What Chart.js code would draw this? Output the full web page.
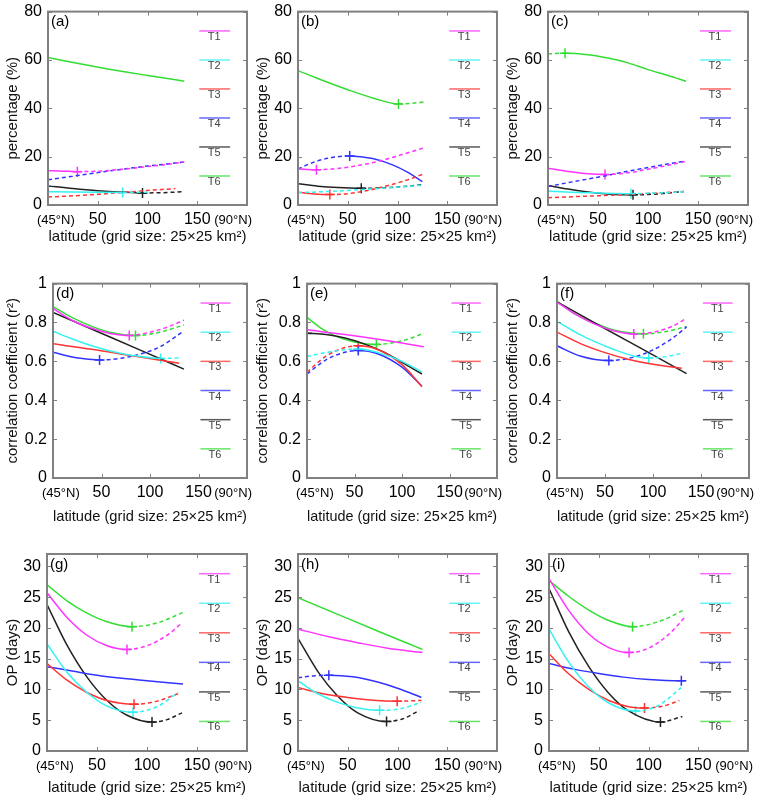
<!DOCTYPE html>
<html>
<head>
<meta charset="utf-8">
<script src="https://cdn.jsdelivr.net/npm/chart.js@4.4.1/dist/chart.umd.min.js"></script>
<style>
  body { margin: 0; background: #fff; }
  #fig { position: relative; width: 760px; height: 802px; overflow: hidden; background: #fff; }
  #fig canvas { position: absolute; }
</style>
</head>
<body>
<div id="fig"></div>
<script>
// series names / colours (same for all nine panels)
const seriesNames = ['T1', 'T2', 'T3', 'T4', 'T5', 'T6'];
const seriesColors = ['#ff33ff', '#33f2f2', '#ff3333', '#3333ff', '#222222', '#33dd33'];

// x axis: grid cells north of 45N
const xMax = 200;
const xTicks = [50, 100, 150];
const xEndLabels = ['(45°N)', '(90°N)'];
const xTitle = 'latitude (grid size: 25×25 km²)';

// y axes
const yTicksPct = [0, 20, 40, 60, 80];
const yTicksCorr = [0, 0.2, 0.4, 0.6, 0.8, 1];
const yTicksOP = [0, 5, 10, 15, 20, 25, 30];
const yTitles = ['percentage (%)', 'correlation coefficient (r²)', 'OP (days)'];
const yMaxes = [80, 1, 32];

// (a) percentage, [x, value]
const aT1 = [[0, 14.2], [15, 14.0], [29.5, 13.8], [50, 14.0], [75, 14.8], [100, 15.9], [120, 16.8], [137, 17.8]];
const aT2 = [[0, 5.5], [25, 5.35], [50, 5.25], [75, 5.2], [100, 5.3]];
const aT3 = [[0, 3.3], [25, 3.8], [50, 4.4], [75, 5.2], [100, 6.0], [128, 6.8]];
const aT4 = [[0, 10.4], [25, 11.9], [50, 13.4], [75, 14.8], [100, 16.1], [120, 17.0], [137, 17.8]];
const aT5 = [[0, 7.9], [25, 6.8], [50, 5.9], [75, 5.3], [95, 5.0], [115, 5.1], [137, 5.5]];
const aT6 = [[0, 61], [20, 59.4], [40, 57.8], [60, 56.3], [80, 54.9], [100, 53.6], [120, 52.3], [137, 51.2]];
const aVertex = [[0, 29.5, 13.8], [1, 75, 5.2], [4, 95, 5.0]];

// (b)
const bT1 = [[0, 15.0], [18.5, 14.6], [40, 15.1], [60, 16.3], [80, 18.0], [100, 20.3], [127, 23.7]];
const bT2 = [[0, 5.1], [25, 5.5], [50, 6.0], [75, 6.7], [100, 7.4], [125, 8.2]];
const bT3 = [[0, 5.3], [16, 4.6], [32, 4.3], [50, 4.7], [70, 6.0], [90, 8.0], [110, 10.4], [126, 12.8]];
const bT4 = [[0, 14.9], [15, 17.6], [30, 19.3], [52, 20.3], [75, 19.2], [95, 16.6], [110, 13.6], [125, 9.7]];
const bT5 = [[0, 8.8], [20, 7.8], [40, 7.2], [63.6, 6.9], [85, 7.1], [105, 7.6], [125, 8.4]];
const bT6 = [[0, 55.6], [25, 51.5], [50, 47.7], [75, 44.3], [101, 41.8], [115, 42.1], [127, 42.6]];
const bVertex = [[0, 18.5, 14.6], [2, 32, 4.3], [3, 52, 20.3], [4, 63.6, 6.9], [5, 101, 41.8]];

// (c)
const cT1 = [[0, 15.2], [20, 13.9], [40, 12.9], [57, 12.6], [80, 13.3], [100, 14.8], [120, 16.4], [137, 18.0]];
const cT2 = [[0, 5.8], [25, 5.3], [50, 5.0], [83, 4.7], [110, 5.0], [137, 5.5]];
const cT3 = [[0, 3.0], [30, 3.5], [60, 4.0], [90, 4.6], [115, 5.1], [136, 5.6]];
const cT4 = [[0, 7.7], [25, 9.6], [50, 11.5], [75, 13.6], [100, 15.5], [120, 17.0], [137, 18.1]];
const cT5 = [[0, 8.1], [20, 6.6], [40, 5.4], [60, 4.6], [85, 4.2], [110, 4.6], [136, 5.6]];
const cT6 = [[0, 62.5], [17, 62.8], [40, 62.2], [60, 60.8], [80, 58.8], [100, 56.0], [120, 53.6], [138, 51.2]];
const cVertex = [[0, 57, 12.6], [1, 83, 4.7], [4, 85, 4.2], [5, 17, 62.8]];

// (d) correlation coefficient
const dT1 = [[0, 0.872], [20, 0.81], [40, 0.77], [60, 0.742], [78.6, 0.733], [100, 0.75], [120, 0.78], [135, 0.812]];
const dT2 = [[0, 0.755], [20, 0.715], [40, 0.68], [60, 0.652], [80, 0.632], [111, 0.615], [130, 0.618]];
const dT3 = [[0, 0.69], [40, 0.662], [80, 0.63], [130, 0.59]];
const dT4 = [[0, 0.647], [24, 0.618], [48, 0.607], [70, 0.616], [90, 0.638], [110, 0.674], [135, 0.757]];
const dT5 = [[0, 0.852], [45, 0.755], [90, 0.658], [135, 0.56]];
const dT6 = [[0, 0.882], [20, 0.825], [40, 0.78], [60, 0.748], [85, 0.733], [110, 0.75], [135, 0.787]];
const dVertex = [[0, 78.6, 0.733], [1, 111, 0.615], [3, 48, 0.607], [5, 85, 0.733]];

// (e)
const eT1 = [[0, 0.762], [40, 0.738], [80, 0.71], [123, 0.675]];
const eT2 = [[0, 0.625], [25, 0.65], [54, 0.664], [75, 0.645], [100, 0.6], [121, 0.545]];
const eT3 = [[0, 0.545], [20, 0.627], [40, 0.671], [54, 0.68], [75, 0.66], [100, 0.583], [121, 0.47]];
const eT4 = [[0, 0.535], [20, 0.608], [40, 0.647], [54, 0.656], [75, 0.638], [100, 0.57], [121, 0.472]];
const eT5 = [[0, 0.745], [20, 0.738], [40, 0.72], [60, 0.69], [80, 0.65], [100, 0.595], [121, 0.535]];
const eT6 = [[0, 0.826], [15, 0.77], [30, 0.73], [50, 0.70], [73, 0.687], [95, 0.70], [110, 0.72], [123, 0.746]];
const eVertex = [[1, 54, 0.664], [2, 54, 0.68], [3, 54, 0.656], [4, 0, 0.745], [5, 73, 0.687]];

// (f)
const fT1 = [[0, 0.905], [20, 0.84], [40, 0.79], [60, 0.756], [80, 0.741], [100, 0.75], [120, 0.78], [135, 0.822]];
const fT2 = [[0, 0.806], [20, 0.748], [40, 0.70], [60, 0.66], [80, 0.628], [95.5, 0.617], [115, 0.625], [132, 0.644]];
const fT3 = [[0, 0.75], [25, 0.69], [50, 0.645], [75, 0.61], [100, 0.585], [130, 0.565]];
const fT4 = [[0, 0.68], [25, 0.626], [54, 0.604], [80, 0.622], [100, 0.659], [120, 0.718], [135, 0.777]];
const fT5 = [[0, 0.906], [45, 0.782], [90, 0.66], [135, 0.537]];
const fT6 = [[0, 0.91], [20, 0.84], [40, 0.795], [60, 0.76], [90, 0.742], [115, 0.755], [135, 0.78]];
const fVertex = [[0, 80, 0.741], [1, 95.5, 0.617], [3, 54, 0.604], [5, 90, 0.742]];

// (g) OP in days
const gT1 = [[0, 25.7], [20, 21.7], [40, 18.8], [60, 17.1], [80, 16.5], [100, 17.1], [120, 18.8], [135, 20.8]];
const gT2 = [[0, 17.4], [20, 12.8], [40, 9.5], [60, 7.3], [86, 6.3], [110, 7.2], [131, 9.5]];
const gT3 = [[0, 14.2], [20, 11.5], [40, 9.5], [60, 8.2], [87, 7.6], [110, 8.1], [131, 9.3]];
const gT4 = [[0, 13.7], [25, 13.0], [50, 12.3], [75, 11.8], [100, 11.4], [136, 10.9]];
const gT5 = [[0, 23.8], [20, 17.2], [40, 12.0], [60, 8.2], [80, 5.8], [105, 4.7], [120, 5.1], [135, 6.2]];
const gT6 = [[0, 27.0], [20, 24.4], [40, 22.4], [60, 21.0], [85, 20.2], [110, 20.8], [136, 22.5]];
const gVertex = [[0, 80, 16.5], [1, 86, 6.3], [2, 87, 7.6], [4, 105, 4.7], [5, 85, 20.2]];

// (h)
const hT1 = [[0, 19.8], [30, 18.6], [60, 17.6], [90, 16.7], [125, 16.0]];
const hT2 = [[0, 11.4], [20, 9.3], [40, 7.9], [60, 7.0], [82, 6.6], [104, 6.9], [124, 7.9]];
const hT3 = [[0, 10.3], [25, 9.3], [50, 8.7], [75, 8.25], [99.7, 8.1], [124, 8.2]];
const hT4 = [[0, 11.9], [15, 12.2], [31, 12.3], [55, 12.05], [80, 11.2], [100, 10.2], [124, 8.7]];
const hT5 = [[0, 18.3], [20, 12.9], [40, 8.9], [60, 6.2], [89, 4.8], [105, 5.2], [122, 6.6]];
const hT6 = [[0, 24.9], [40, 22.2], [80, 19.5], [125, 16.5]];
const hVertex = [[1, 82, 6.6], [2, 99.7, 8.1], [3, 31, 12.3], [4, 89, 4.8]];

// (i)
const iT1 = [[0, 28.0], [20, 22.8], [40, 19.0], [60, 16.8], [80.5, 16.0], [100, 16.7], [120, 18.9], [137, 21.8]];
const iT2 = [[0, 19.8], [20, 14.4], [40, 10.4], [60, 7.8], [87, 6.5], [110, 7.4], [133, 10.3]];
const iT3 = [[0, 15.8], [20, 12.5], [40, 10.0], [60, 8.2], [80, 7.2], [96, 7.0], [115, 7.3], [131, 8.2]];
const iT4 = [[0, 14.2], [25, 13.3], [50, 12.6], [75, 12.0], [100, 11.6], [133, 11.4], [137, 11.42]];
const iT5 = [[0, 26.4], [20, 19.3], [40, 13.7], [60, 9.4], [80, 6.5], [112, 4.7], [134, 5.6]];
const iT6 = [[0, 27.7], [20, 25.1], [40, 22.9], [60, 21.2], [84, 20.2], [110, 21.0], [137, 23.0]];
const iVertex = [[0, 80.5, 16.0], [1, 87, 6.5], [2, 96, 7.0], [3, 133, 11.4], [4, 112, 4.7], [5, 84, 20.2]];

// layout: plot boxes [x1, y1, x2, y2] in page pixels
const colStarts = [0, 250, 500];
const rowTops = [-4, 268, 538];
const xAxisHeights = [45, 52, 50];
const panelBoxes = [
  [48, 8, 247, 205], [298, 8, 497, 205], [548, 8, 748, 205],
  [53, 283, 247, 478], [307, 283, 497, 478], [557, 283, 749, 478],
  [47, 554, 247, 751], [298, 554, 497, 751], [549, 554, 748, 751]
];

const panels = [
  { letter: '(a)', series: [aT1, aT2, aT3, aT4, aT5, aT6], vertex: aVertex },
  { letter: '(b)', series: [bT1, bT2, bT3, bT4, bT5, bT6], vertex: bVertex },
  { letter: '(c)', series: [cT1, cT2, cT3, cT4, cT5, cT6], vertex: cVertex },
  { letter: '(d)', series: [dT1, dT2, dT3, dT4, dT5, dT6], vertex: dVertex },
  { letter: '(e)', series: [eT1, eT2, eT3, eT4, eT5, eT6], vertex: eVertex },
  { letter: '(f)', series: [fT1, fT2, fT3, fT4, fT5, fT6], vertex: fVertex },
  { letter: '(g)', series: [gT1, gT2, gT3, gT4, gT5, gT6], vertex: gVertex },
  { letter: '(h)', series: [hT1, hT2, hT3, hT4, hT5, hT6], vertex: hVertex },
  { letter: '(i)', series: [iT1, iT2, iT3, iT4, iT5, iT6], vertex: iVertex }
];
const yTickSets = [yTicksPct, yTicksCorr, yTicksOP];

const FONT = "'Liberation Sans', Arial, Helvetica, sans-serif";
Chart.defaults.font.family = FONT;

// frame, inner ticks, x tick labels, panel letter and the legend inside the box
const framePlugin = {
  id: 'frame',
  afterDraw(chart, args, opts) {
    const ctx = chart.ctx;
    const a = chart.chartArea;
    const xs = chart.scales.x, ys = chart.scales.y;
    ctx.save();

    // legend (drawn inside the plot, right side)
    const w = a.right - a.left;
    seriesNames.forEach((name, i) => {
      const frac = 0.9 - 0.15 * i;
      const y = ys.getPixelForValue(ys.min + frac * (ys.max - ys.min));
      ctx.strokeStyle = seriesColors[i];
      ctx.globalAlpha = 0.75;
      ctx.lineWidth = 1.5;
      ctx.beginPath();
      ctx.moveTo(a.left + 0.76 * w, y);
      ctx.lineTo(a.left + 0.915 * w, y);
      ctx.stroke();
      ctx.globalAlpha = 1;
      ctx.fillStyle = '#444';
      ctx.font = '11px ' + FONT;
      ctx.textAlign = 'center';
      ctx.textBaseline = 'middle';
      ctx.fillText(name, a.left + 0.835 * w, y + 6);
    });

    // box
    ctx.strokeStyle = '#808080';
    ctx.lineWidth = 2;
    ctx.strokeRect(a.left, a.top, a.right - a.left, a.bottom - a.top);

    // inner tick marks
    ctx.lineWidth = 1;
    ctx.beginPath();
    xTicks.forEach(v => {
      const px = Math.round(xs.getPixelForValue(v)) + 0.5;
      ctx.moveTo(px, a.bottom); ctx.lineTo(px, a.bottom - 4);
      ctx.moveTo(px, a.top); ctx.lineTo(px, a.top + 4);
    });
    ys.ticks.forEach(t => {
      const py = Math.round(ys.getPixelForValue(t.value)) + 0.5;
      ctx.moveTo(a.left, py); ctx.lineTo(a.left + 4, py);
      ctx.moveTo(a.right, py); ctx.lineTo(a.right - 4, py);
    });
    ctx.stroke();

    // x tick labels
    ctx.fillStyle = '#000';
    ctx.textBaseline = 'middle';
    ctx.font = '16px ' + FONT;
    ctx.textAlign = 'center';
    xTicks.forEach(v => ctx.fillText(String(v), xs.getPixelForValue(v), a.bottom + 15));
    ctx.font = '13px ' + FONT;
    ctx.textAlign = 'left';
    ctx.fillText(xEndLabels[0], xs.getPixelForValue(0) - 11, a.bottom + 15);
    ctx.textAlign = 'right';
    ctx.fillText(xEndLabels[1], xs.getPixelForValue(xMax) + 5, a.bottom + 15);

    // panel letter
    ctx.font = '15px ' + FONT;
    ctx.textAlign = 'left';
    ctx.textBaseline = 'top';
    ctx.fillText(opts.letter, a.left + 3, a.top + 3);
    ctx.restore();
  }
};

const fig = document.getElementById('fig');

panels.forEach((p, k) => {
  const row = Math.floor(k / 3), col = k % 3;
  const box = panelBoxes[k];
  const left = colStarts[col], top = rowTops[row];
  const w = box[2] - left + 10;
  const h = box[3] - top + xAxisHeights[row];

  const canvas = document.createElement('canvas');
  canvas.width = w;
  canvas.height = h;
  canvas.style.left = left + 'px';
  canvas.style.top = top + 'px';
  canvas.style.width = w + 'px';
  canvas.style.height = h + 'px';
  fig.appendChild(canvas);

  const datasets = p.series.map((pts, i) => ({
    label: seriesNames[i],
    data: pts.map(q => ({ x: q[0], y: q[1] })),
    borderColor: seriesColors[i],
    borderWidth: 1.5,
    pointRadius: 0,
    fill: false,
    cubicInterpolationMode: 'monotone',
    // rising part of a fitted curve is dashed, falling part solid
    segment: {
      borderDash: c => (c.p1.parsed.y > c.p0.parsed.y ? [4, 3] : undefined)
    }
  }));

  // turning points marked with a +
  datasets.push({
    label: 'vertex',
    data: p.vertex.map(v => ({ x: v[1], y: v[2] })),
    showLine: false,
    pointStyle: 'cross',
    pointRadius: 5,
    pointBorderWidth: 1.5,
    pointBorderColor: p.vertex.map(v => seriesColors[v[0]]),
    borderColor: p.vertex.map(v => seriesColors[v[0]])
  });

  new Chart(canvas, {
    type: 'line',
    data: { datasets: datasets },
    options: {
      responsive: false,
      animation: false,
      devicePixelRatio: 1,
      layout: { padding: { top: box[1] - top, right: 10, left: 0, bottom: 0 } },
      plugins: {
        legend: { display: false },
        tooltip: { enabled: false },
        frame: { letter: p.letter }
      },
      scales: {
        x: {
          type: 'linear',
          min: 0,
          max: xMax,
          grid: { display: false, drawTicks: false, tickLength: 0 },
          border: { display: false },
          ticks: { display: false },
          title: {
            display: true,
            text: xTitle,
            color: '#111',
            font: { size: 15 },
            padding: { top: 0, bottom: 4 }
          },
          afterFit: s => { s.height = xAxisHeights[row]; }
        },
        y: {
          min: 0,
          max: yMaxes[row],
          grid: { display: false, drawTicks: false, tickLength: 0 },
          border: { display: false },
          afterBuildTicks: s => { s.ticks = yTickSets[row].map(v => ({ value: v })); },
          ticks: {
            padding: 6,
            color: '#000',
            font: { size: 16 },
            callback: v => String(v)
          },
          title: {
            display: true,
            text: yTitles[row],
            color: '#111',
            font: { size: 15 },
            padding: { top: 4, bottom: 0 }
          },
          afterFit: s => { s.width = box[0] - left; }
        }
      }
    },
    plugins: [framePlugin]
  });
});
</script>
</body>
</html>
